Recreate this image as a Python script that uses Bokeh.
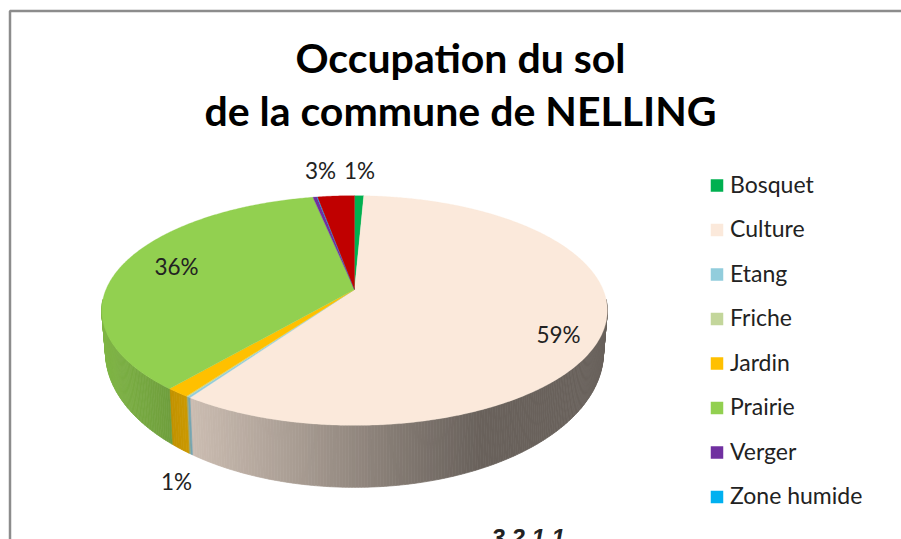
import math
import numpy as np
from bokeh.plotting import figure
from bokeh.models import Range1d
from bokeh.core.properties import value
from bokeh.embed import file_html
from bokeh.resources import INLINE

title_lines = ["Occupation du sol", "de la commune de NELLING"]
categories = ["Bosquet", "Culture", "Etang", "Friche", "Jardin", "Prairie", "Verger", "Zone humide", "Autre"]
shares = [0.7, 58.65, 0.15, 0.1, 1.3, 35.7, 0.3, 0.05, 2.8]
colors = ["#00B050", "#FBE9DB", "#92CDDC", "#C3D69B", "#FFC000", "#92D050", "#7030A0", "#00B0F0", "#C00000"]
legend_names = categories[:8]
legend_colors = colors[:8]
labels = ["1%", "59%", "36%", "3%", "1%"]
label_pos = [(359, 170), (558, 334), (176, 266), (320, 170), (176, 481)]

# projection of the pie disc
CX, Y0, X_R, Y_R, T = 354.0, 289.0, 248.5, 111.0, 0.183
BOT_S, BOT_Y0, BOT_Y = 0.985, 327.0, 130.6

def top_pt(th):
    u, v = math.sin(th), -math.cos(th)
    w = 1 - T * v
    return CX + X_R * u / w, Y0 + Y_R * v / w

def bot_pt(th):
    u, v = math.sin(th), -math.cos(th)
    w = 1 - T * v
    return CX + X_R * BOT_S * u / w, BOT_Y0 + BOT_Y * v / w

SHADE_X = [95, 170, 190, 290, 400, 480, 610]
SHADE_F = [0.88, 0.76, 0.81, 0.68, 0.52, 0.42, 0.42]

def shade(col, x):
    f = float(np.interp(x, SHADE_X, SHADE_F))
    r, g, b = (int(col[i:i + 2], 16) for i in (1, 3, 5))
    return "#%02x%02x%02x" % (int(r * f), int(g * f), int(b * f))

p = figure(width=901, height=539, x_range=Range1d(0, 901), y_range=Range1d(539, 0),
           toolbar_location=None, output_backend="svg", min_border=0)
p.axis.visible = False
p.grid.visible = False
p.outline_line_color = None
p.background_fill_color = "white"
p.border_fill_color = "white"

# chart frame
p.line([901, 9.5, 9.5], [10.5, 10.5, 539], line_color="#8c8c8c", line_width=2.5)

total = sum(shares)
edges = np.cumsum([0] + shares) / total * 2 * math.pi

# side wall
xs, ys, fills = [], [], []
for i, c in enumerate(colors):
    a, b = max(edges[i], math.radians(95)), min(edges[i + 1], math.radians(265))
    if b <= a:
        continue
    n = max(1, int((b - a) / math.radians(0.6)))
    th = np.linspace(a, b, n + 1)
    for t0, t1 in zip(th[:-1], th[1:]):
        p0, p1, q1, q0 = top_pt(t0), top_pt(t1), bot_pt(t1), bot_pt(t0)
        xs.append([p0[0], p1[0], q1[0], q0[0]])
        ys.append([p0[1], p1[1], q1[1], q0[1]])
        fills.append(shade(c, (p0[0] + p1[0]) / 2))
p.patches(xs, ys, fill_color=fills, line_color=fills, line_width=0.7)

# top surface
xs, ys = [], []
for i in range(len(shares)):
    n = max(2, int((edges[i + 1] - edges[i]) / math.radians(0.5)))
    pts = [top_pt(t) for t in np.linspace(edges[i], edges[i + 1], n + 1)]
    xs.append([CX] + [q[0] for q in pts])
    ys.append([Y0] + [q[1] for q in pts])
p.patches(xs, ys, fill_color=colors, line_color=colors, line_width=0.3)

# title
for line, y in zip(title_lines, (57, 110)):
    p.text([460], [y], text=[line], text_font=value("Lato"), text_font_style="bold",
           text_font_size="41px", text_align="center", text_baseline="middle", text_color="#000000")

# data labels
p.text([q[0] for q in label_pos], [q[1] for q in label_pos], text=labels, text_font=value("Lato"),
       text_font_size="22.5px", text_align="center", text_baseline="middle", text_color="#222222")

# legend
leg_y = [185 + 44.5 * i for i in range(len(legend_names))]
p.scatter([716.5] * len(leg_y), leg_y, marker="square", size=12.5, fill_color=legend_colors, line_color=None)
p.text([729.5] * len(leg_y), [y - 2 for y in leg_y], text=legend_names, text_font=value("Lato"), text_font_size="23px",
       text_align="left", text_baseline="middle", text_color="#222222")

# page number cut off by the picture's lower edge
p.text([491], [537], text=["3 2 1 1"], text_font=value("Liberation Sans"), text_font_style="bold italic",
       text_font_size="24px", text_align="left", text_baseline="alphabetic", text_color="#222222")

open("out.html", "w").write(file_html(p, INLINE))
